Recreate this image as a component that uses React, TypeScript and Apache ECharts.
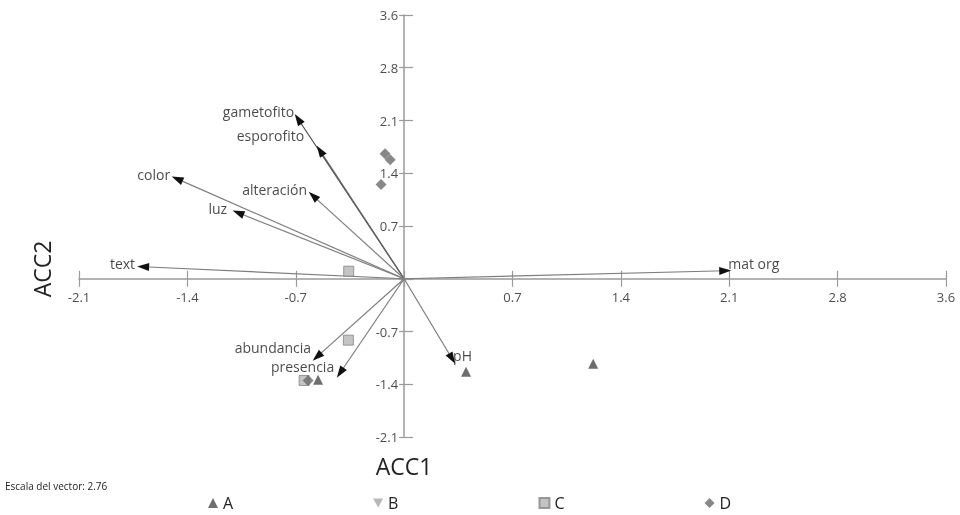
import React, { useEffect, useRef } from "react";
import * as echarts from "echarts";

// ---------- data ----------
const tickValues = [-2.1, -1.4, -0.7, 0, 0.7, 1.4, 2.1, 2.8, 3.5];
const xTickLabels = ["-2.1", "-1.4", "-0.7", "", "0.7", "1.4", "2.1", "2.8", "3.6"];
const yTickLabels = ["-2.1", "-1.4", "-0.7", "", "0.7", "1.4", "2.1", "2.8", "3.6"];

const vectorNames = ["gametofito", "esporofito", "color", "alteración", "luz", "text", "mat org", "pH", "abundancia", "presencia"];
const vectorX = [-0.685, -0.543, -1.466, -0.588, -1.072, -1.686, 2.074, 0.31, -0.562, -0.413];
const vectorY = [2.12, 1.7, 1.326, 1.1, 0.875, 0.159, 0.106, -1.061, -1.034, -1.247];

const groupA: number[][] = [[-0.556, -1.34], [0.4, -1.233], [1.221, -1.127]];
const groupB: number[][] = [];
const groupC: number[][] = [[-0.358, 0.1], [-0.36, -0.815], [3.51, -0.81], [-0.646, -1.35]];
const groupD: number[][] = [[-0.123, 1.66], [-0.09, 1.58], [-0.149, 1.25], [-0.62, -1.35]];

const vectorScaleText = "Escala del vector: 2.76";

// ---------- styles ----------
const FONT = "'Open Sans', 'Noto Sans', sans-serif";
const labelPlacement: Record<string, { position: string; distance: number; offset: number[] }> = {
  gametofito: { position: "left", distance: 4, offset: [0, -7] },
  esporofito: { position: "left", distance: 16, offset: [0, -15] },
  color: { position: "left", distance: 7, offset: [0, -4] },
  "alteración": { position: "left", distance: 6, offset: [0, -6] },
  luz: { position: "left", distance: 11, offset: [0, -4] },
  text: { position: "left", distance: 8, offset: [0, -3] },
  "mat org": { position: "right", distance: 3, offset: [0, -7] },
  pH: { position: "right", distance: 1, offset: [0, -3] },
  abundancia: { position: "left", distance: 6, offset: [0, -9] },
  presencia: { position: "left", distance: 6, offset: [0, -6] },
};
const lineColors: Record<string, string> = {
  gametofito: "#505050",
  esporofito: "#606060",
};

const TRI_DOWN = "path://M0,0 L10,0 L5,9 Z";

export default function App() {
  const ref = useRef<HTMLDivElement>(null);

  useEffect(() => {
    if (!ref.current) return;
    const chart = echarts.init(ref.current, null, { renderer: "svg" });

    const axisColor = "#9a9a9a";
    const baseX = {
      type: "value",
      min: -2.1,
      max: 3.5,
      interval: 0.7,
      position: "bottom",
      splitLine: { show: false },
      axisLabel: { show: false },
    };
    const baseY = {
      type: "value",
      min: -2.1,
      max: 3.5,
      interval: 0.7,
      position: "left",
      splitLine: { show: false },
      axisLabel: { show: false },
    };

    const vectorCoords = vectorNames.map((n, i) => ({
      name: n,
      coords: [[0, 0], [vectorX[i], vectorY[i]]],
      lineStyle: { color: lineColors[n] ?? "#7e7e7e" },
    }));
    const arrowCoords = vectorNames.map((n, i) => ({ name: n, coords: [[0, 0], [vectorX[i], vectorY[i]]] }));

    const tickLabelStyle = { fontSize: 13, color: "#222", fontFamily: FONT };

    chart.setOption({
      animation: false,
      textStyle: { fontFamily: FONT },
      grid: { left: 79, right: 14, top: 15, bottom: 78, containLabel: false },
      xAxis: [
        {
          ...baseX,
          axisLine: { onZero: true, lineStyle: { color: axisColor, width: 1.5 } },
          axisTick: { show: true, length: 8, lineStyle: { color: axisColor, width: 1.2 } },
        },
        {
          ...baseX,
          axisLine: { onZero: true, lineStyle: { color: axisColor, width: 1.5, opacity: 0 } },
          axisTick: { show: true, inside: true, length: 8, lineStyle: { color: axisColor, width: 1.2 } },
        },
      ],
      yAxis: [
        {
          ...baseY,
          axisLine: { onZero: true, lineStyle: { color: axisColor, width: 1.5 } },
          axisTick: { show: true, length: 5, lineStyle: { color: axisColor, width: 1.2 } },
        },
        {
          ...baseY,
          axisLine: { onZero: true, lineStyle: { color: axisColor, width: 1.5, opacity: 0 } },
          axisTick: { show: true, inside: true, length: 9, lineStyle: { color: axisColor, width: 1.2 } },
        },
      ],
      legend: {
        data: [
          { name: "A", icon: "triangle" },
          { name: "B", icon: TRI_DOWN },
          { name: "C", icon: "rect" },
          { name: "D", icon: "diamond" },
        ],
        left: 203,
        top: 490,
        itemWidth: 10,
        itemHeight: 10,
        itemGap: 140,
        textStyle: { fontSize: 16, color: "#222", fontFamily: FONT },
      },
      graphic: [
        {
          type: "text",
          left: 5,
          top: 481,
          style: { text: vectorScaleText, fontSize: 10, fill: "#222", fontFamily: FONT },
        },
        {
          type: "text",
          x: 404,
          y: 466,
          style: { text: "ACC1", fontSize: 23, fill: "#222", fontFamily: FONT, align: "center", verticalAlign: "middle" },
        },
        {
          type: "text",
          x: 42,
          y: 269,
          rotation: Math.PI / 2,
          style: { text: "ACC2", fontSize: 23, fill: "#222", fontFamily: FONT, align: "center", verticalAlign: "middle" },
        },
      ],
      series: [
        {
          type: "scatter",
          name: "xTickLabels",
          xAxisIndex: 0,
          yAxisIndex: 0,
          silent: true,
          symbolSize: 0,
          data: tickValues.map((v, i) => ({
            value: [v, 0],
            label: { show: true, formatter: xTickLabels[i], position: "bottom", distance: 12, ...tickLabelStyle },
          })),
        },
        {
          type: "scatter",
          name: "yTickLabels",
          xAxisIndex: 0,
          yAxisIndex: 0,
          silent: true,
          symbolSize: 0,
          data: tickValues.map((v, i) => ({
            value: [0, v],
            label: { show: true, formatter: yTickLabels[i], position: "left", distance: 6, ...tickLabelStyle },
          })),
        },
        {
          type: "lines",
          name: "vectors",
          coordinateSystem: "cartesian2d",
          xAxisIndex: 0,
          yAxisIndex: 0,
          silent: true,
          symbol: ["none", "none"],
          lineStyle: { color: "#7e7e7e", width: 1.2, opacity: 1 },
          data: vectorCoords,
          z: 2,
        },
        {
          type: "lines",
          name: "arrowheads",
          coordinateSystem: "cartesian2d",
          xAxisIndex: 0,
          yAxisIndex: 0,
          silent: true,
          symbol: ["none", "triangle"],
          symbolSize: [1, [8, 12]],
          symbolOffset: [0, [0, 6]],
          lineStyle: { color: "#111", width: 0, opacity: 1 },
          data: arrowCoords,
          z: 3,
        },
        {
          type: "scatter",
          name: "vectorLabels",
          xAxisIndex: 0,
          yAxisIndex: 0,
          silent: true,
          symbolSize: 0,
          data: vectorNames.map((n, i) => ({
            name: n,
            value: [vectorX[i], vectorY[i]],
            label: {
              show: true,
              formatter: n,
              position: labelPlacement[n].position,
              distance: labelPlacement[n].distance,
              offset: labelPlacement[n].offset,
              fontSize: 14,
              color: "#1a1a1a",
              fontFamily: FONT,
            },
          })),
          z: 4,
        },
        {
          type: "scatter",
          name: "A",
          xAxisIndex: 0,
          yAxisIndex: 0,
          symbol: "triangle",
          symbolSize: 10,
          itemStyle: { color: "#4a4a4a" },
          data: groupA,
          z: 5,
        },
        {
          type: "scatter",
          name: "B",
          xAxisIndex: 0,
          yAxisIndex: 0,
          symbol: TRI_DOWN,
          symbolSize: 10,
          itemStyle: { color: "#a5a5a5" },
          data: groupB,
          z: 5,
        },
        {
          type: "scatter",
          name: "C",
          xAxisIndex: 0,
          yAxisIndex: 0,
          symbol: "rect",
          symbolSize: 10,
          itemStyle: { color: "#b5b5b5", borderColor: "#858585", borderWidth: 1 },
          data: groupC,
          z: 5,
        },
        {
          type: "scatter",
          name: "D",
          xAxisIndex: 0,
          yAxisIndex: 0,
          symbol: "diamond",
          symbolSize: 11,
          itemStyle: { color: "#6a6a6a" },
          data: groupD,
          z: 5,
        },
      ],
    });

    return () => chart.dispose();
  }, []);

  return <div ref={ref} style={{ position: "fixed", left: 0, top: 0, width: 960, height: 515 }} />;
}
